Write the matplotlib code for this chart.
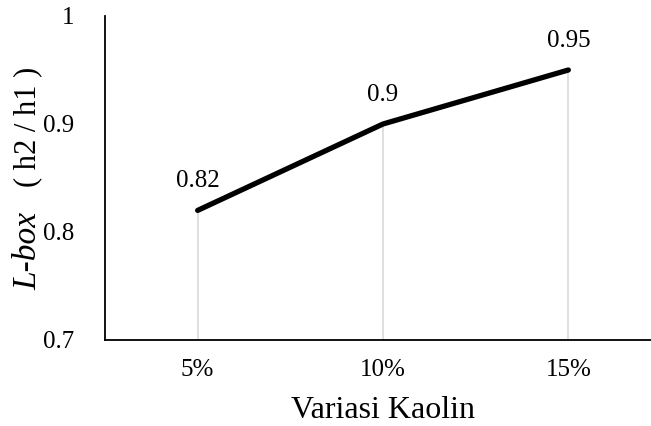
import matplotlib.pyplot as plt
import numpy as np

plt.rcParams['font.family'] = ['Liberation Serif', 'DejaVu Serif']

categories = ["5%", "10%", "15%"]
lbox = [0.82, 0.90, 0.95]
yticks = [0.7, 0.8, 0.9, 1.0]
ytick_labels = ["0.7", "0.8", "0.9", "1"]

W, H = 651, 426
fig = plt.figure(figsize=(W / 100, H / 100), dpi=100)
# axes extends slightly past the right edge like the original
ax = fig.add_axes([105 / W, (H - 340) / H, (661 - 105) / W, (340 - 16) / H])

x = np.arange(len(categories))
ax.vlines(x, 0.7, lbox, color="#d9d9d9", lw=1.2, zorder=1)
ax.plot(x, lbox, color="black", lw=3.8, solid_capstyle="round", zorder=2)

for xi, v in zip(x, lbox):
    ax.annotate(f"{v:g}", (xi, v), xytext=(0, 21), textcoords="offset points",
                ha="center", va="center", fontsize=18,
                bbox=dict(boxstyle="square,pad=0.15", fc="white", ec="none"),
                zorder=3)

ax.set_xlim(-0.5, 2.5)
ax.set_ylim(0.7, 1.0)
ax.set_xticks(x)
ax.set_xticklabels(categories, fontsize=18)
ax.set_yticks(yticks)
ax.set_yticklabels(ytick_labels, fontsize=18)
ax.tick_params(axis="x", length=0, pad=14)
ax.tick_params(axis="y", length=0, pad=22)
for s in ["top", "right"]:
    ax.spines[s].set_visible(False)
for s in ["left", "bottom"]:
    ax.spines[s].set_linewidth(1.3)
    ax.spines[s].set_color("black")

fig.text(383 / W, (H - 410) / H, "Variasi Kaolin", ha="center", va="center", fontsize=23)
fig.text(28 / W, (H - 290) / H, "L-box", style="italic", rotation=90,
         ha="center", va="bottom", fontsize=24)
fig.text(28 / W, (H - 67) / H, "( h2 / h1 )", rotation=90,
         ha="center", va="top", fontsize=22)

fig.savefig("out.png", dpi=100)
